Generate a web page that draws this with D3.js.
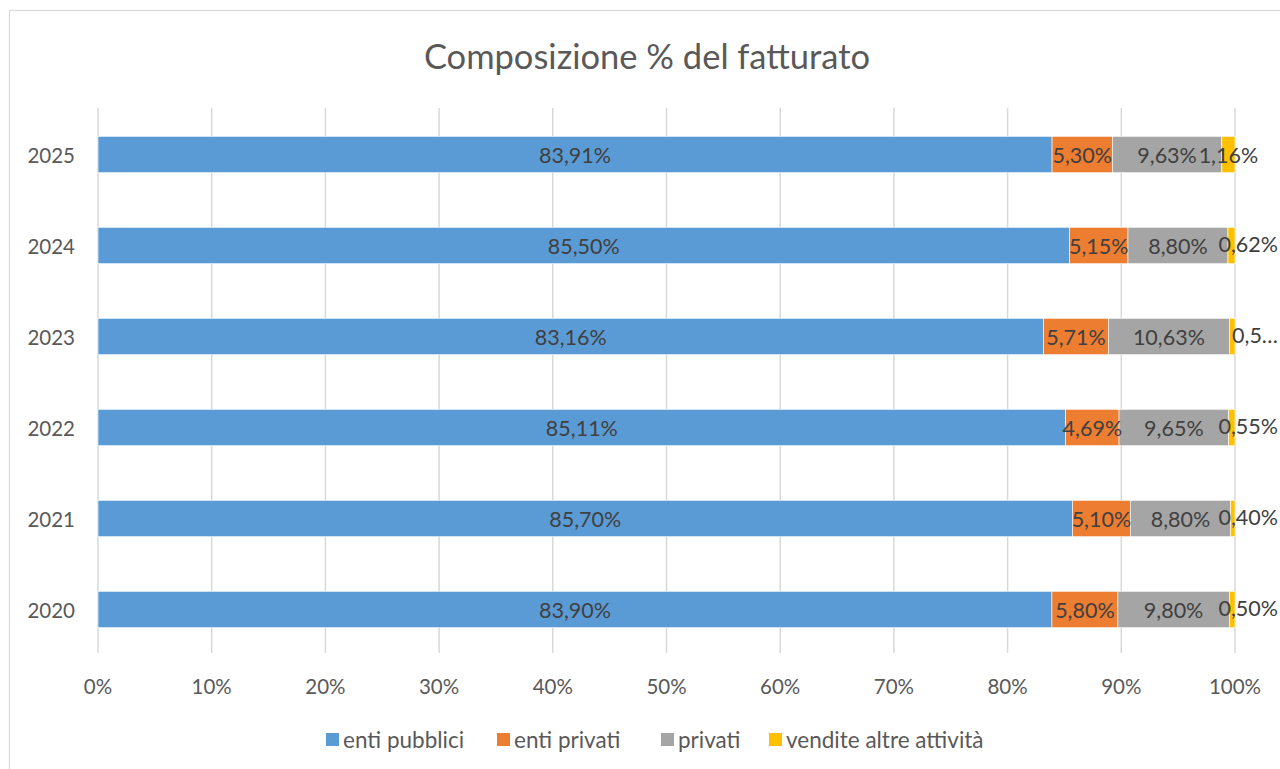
<!DOCTYPE html>
<html><head><meta charset="utf-8">
<script src="https://cdn.jsdelivr.net/npm/d3@7"></script>
<style>body{margin:0;background:#fff}svg{display:block}text{font-family:Lato,"Open Sans",sans-serif}</style>
</head><body><svg id="c" width="1280" height="769"></svg>
<script>
const years = ["2025","2024","2023","2022","2021","2020"];
const seriesNames = ["enti pubblici","enti privati","privati","vendite altre attività"];
const entiPubblici = [83.91,85.50,83.16,85.11,85.70,83.90];
const entiPrivati  = [5.30,5.15,5.71,4.69,5.10,5.80];
const privati      = [9.63,8.80,10.63,9.65,8.80,9.80];
const vendite      = [1.16,0.62,0.50,0.55,0.40,0.50];
const xTicks = [0,10,20,30,40,50,60,70,80,90,100];
const colors = ["#5B9BD5","#ED7D31","#A5A5A5","#FFC000"];
const truncated = {"2023-3":"0,5…"};

const svg = d3.select("#c");
const m = {left:98, right:1235, top:109, bottom:655};

svg.append("rect").attr("x",9.5).attr("y",10.5).attr("width",1300).attr("height",800)
  .attr("fill","#fff").attr("stroke","#d9d9d9").attr("stroke-width",1.2);

svg.append("text").attr("x",647).attr("y",55).attr("text-anchor","middle")
  .attr("dominant-baseline","central").attr("font-size",34.5).attr("fill","#595959")
  .text("Composizione % del fatturato");

const x = d3.scaleLinear().domain([0,100]).range([m.left,m.right]);
const y = d3.scaleBand().domain(years).range([m.top,m.bottom]).paddingInner(0.6).paddingOuter(0.3);

svg.append("g").selectAll("line").data(xTicks).join("line")
  .attr("x1",d=>x(d)).attr("x2",d=>x(d)).attr("y1",m.top-1).attr("y2",m.bottom-2)
  .attr("stroke","#d9d9d9").attr("stroke-width",1.5);

const rows = years.map((yr,i)=>{
  const vals=[entiPubblici[i],entiPrivati[i],privati[i],vendite[i]];
  const tot=d3.sum(vals);
  let acc=0;
  return vals.map((v,k)=>{const s=acc/tot*100; acc+=v; return {yr,k,v,s,e:acc/tot*100};});
});
const segs = rows.flat();

svg.append("g").selectAll("rect").data(segs).join("rect")
  .attr("x",d=>x(d.s)).attr("width",d=>x(d.e)-x(d.s))
  .attr("y",d=>y(d.yr)).attr("height",y.bandwidth())
  .attr("fill",d=>colors[d.k]).attr("stroke","#fff").attr("stroke-width",0.6);

const fmt = v => v.toFixed(2).replace(".",",")+"%";
const small = d => d.k===3 && d.v<1;
svg.append("g").selectAll("text").data(segs).join("text")
  .attr("x",d=> small(d) ? x(100)+43 : (x(d.s)+x(d.e))/2)
  .attr("text-anchor",d=> small(d) ? "end" : "middle")
  .attr("y",d=>y(d.yr)+y.bandwidth()/2 - (small(d)?2:0))
  .attr("dominant-baseline","central").attr("font-size",21.5).attr("fill","#404040")
  .text(d=> truncated[d.yr+"-"+d.k] || fmt(d.v));

svg.append("g").selectAll("text").data(years).join("text")
  .attr("x",75).attr("y",d=>y(d)+y.bandwidth()/2).attr("text-anchor","end")
  .attr("dominant-baseline","central").attr("font-size",20.5).attr("fill","#595959").text(d=>d);

svg.append("g").selectAll("text").data(xTicks).join("text")
  .attr("x",d=>x(d)).attr("y",686).attr("text-anchor","middle")
  .attr("dominant-baseline","central").attr("font-size",20.5).attr("fill","#595959").text(d=>d+"%");

const lg = svg.append("g");
const lx = [326,497,661,769];
seriesNames.forEach((n,i)=>{
  lg.append("rect").attr("x",lx[i]).attr("y",733).attr("width",13).attr("height",13).attr("fill",colors[i]);
  lg.append("text").attr("x",lx[i]+17).attr("y",739).attr("dominant-baseline","central")
    .attr("font-size",22.5).attr("fill","#595959").text(n);
});
</script></body></html>
